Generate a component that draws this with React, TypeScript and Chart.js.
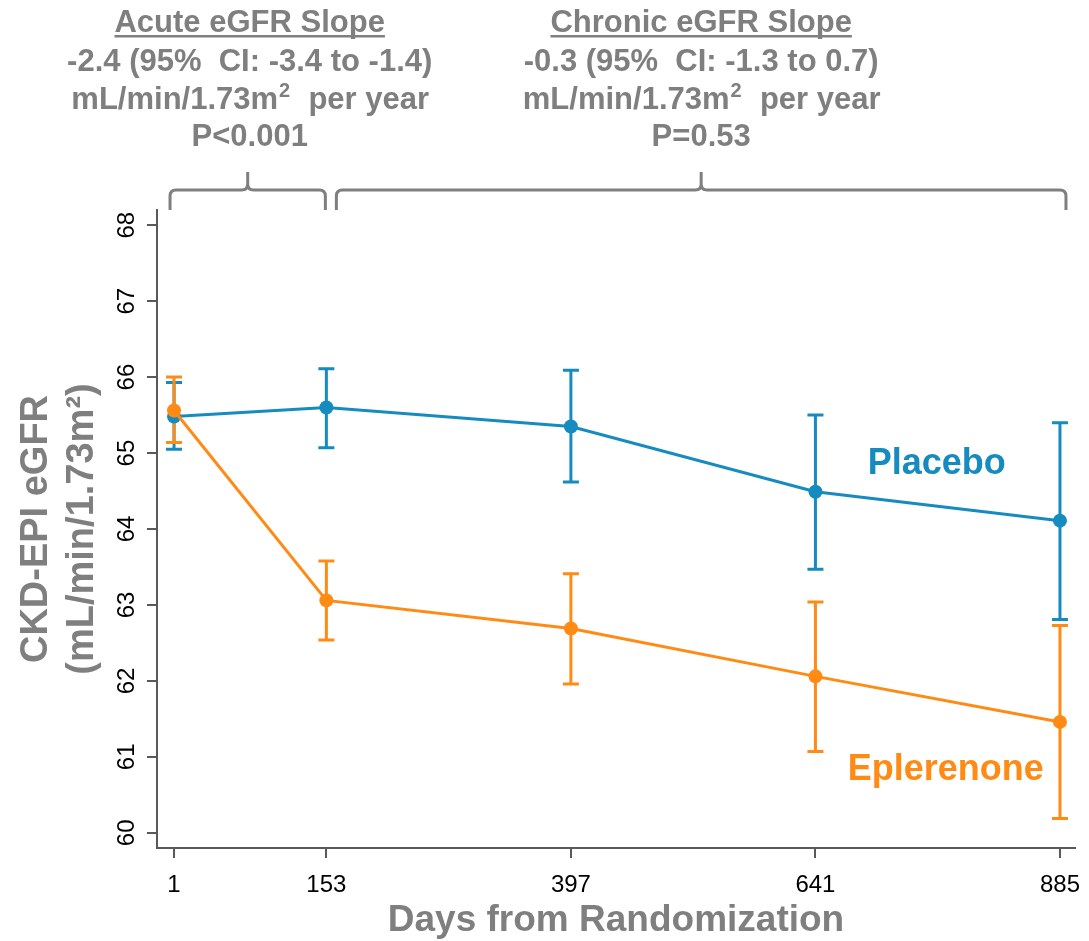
import React, { useEffect, useRef } from "react";
import { Chart, registerables } from "chart.js";

Chart.register(...registerables);

// ---- Data ----
const days = [1, 153, 397, 641, 885];
const placeboMean = [65.48, 65.6, 65.35, 64.49, 64.11];
const placeboLow = [65.05, 65.07, 64.62, 63.47, 62.81];
const placeboHigh = [65.93, 66.11, 66.09, 65.5, 65.4];
const epleMean = [65.56, 63.06, 62.69, 62.06, 61.46];
const epleLow = [65.14, 62.54, 61.96, 61.07, 60.19];
const epleHigh = [66.0, 63.58, 63.41, 63.04, 62.73];
const yTicks = [60, 61, 62, 63, 64, 65, 66, 67, 68];
const xTicks = days;
const acuteRange = [1, 153];
const chronicRange = [153, 885];
const acuteText = ["Acute eGFR Slope", "-2.4 (95%  CI: -3.4 to -1.4)", "mL/min/1.73m\u00B2  per year", "P<0.001"];
const chronicText = ["Chronic eGFR Slope", "-0.3 (95%  CI: -1.3 to 0.7)", "mL/min/1.73m\u00B2  per year", "P=0.53"];
const seriesNames = ["Placebo", "Eplerenone"];

// ---- Styles ----
const BLUE = "#168BC0";
const ORANGE = "#FF8B14";
const GRAY = "#7F7F7F";
const AXIS = "#595959";
const FONT = 'Arial, "Liberation Sans", Helvetica, sans-serif';

const errorBarPlugin = {
  id: "errorBars",
  beforeDatasetsDraw(chart: any) {
    const { ctx, scales } = chart;
    const xs = scales.x;
    const ys = scales.y;
    const sets = [
      { low: placeboLow, high: placeboHigh, color: BLUE },
      { low: epleLow, high: epleHigh, color: ORANGE },
    ];
    ctx.save();
    ctx.lineWidth = 3;
    ctx.lineCap = "butt";
    for (const s of sets) {
      ctx.strokeStyle = s.color;
      days.forEach((d, i) => {
        const x = xs.getPixelForValue(d);
        const yl = ys.getPixelForValue(s.low[i]);
        const yh = ys.getPixelForValue(s.high[i]);
        ctx.beginPath();
        ctx.moveTo(x, yl);
        ctx.lineTo(x, yh);
        ctx.moveTo(x - 8, yl);
        ctx.lineTo(x + 8, yl);
        ctx.moveTo(x - 8, yh);
        ctx.lineTo(x + 8, yh);
        ctx.stroke();
      });
    }
    ctx.restore();
  },
};

function drawBracket(ctx: any, x0: number, x1: number) {
  const y = 190;
  const yEnd = 210;
  const yTop = 172;
  const r = 6;
  const pk = (x0 + x1) / 2;
  ctx.beginPath();
  ctx.moveTo(x0, yEnd);
  ctx.lineTo(x0, y + r);
  ctx.quadraticCurveTo(x0, y, x0 + r, y);
  ctx.lineTo(pk - r, y);
  ctx.quadraticCurveTo(pk, y, pk, y - r);
  ctx.lineTo(pk, yTop);
  ctx.moveTo(pk, y - r);
  ctx.quadraticCurveTo(pk, y, pk + r, y);
  ctx.lineTo(x1 - r, y);
  ctx.quadraticCurveTo(x1, y, x1, y + r);
  ctx.lineTo(x1, yEnd);
  ctx.stroke();
  return pk;
}

function drawBlock(ctx: any, cx: number, lines: string[]) {
  const ys = [23, 62, 100, 137];
  const main = `bold 31px ${FONT}`;
  const sup = `bold 20px ${FONT}`;
  ctx.fillStyle = GRAY;
  ctx.textBaseline = "middle";
  lines.forEach((t, i) => {
    const parts = t.split("\u00B2");
    if (parts.length === 2) {
      ctx.font = main;
      const w1 = ctx.measureText(parts[0]).width;
      const w3 = ctx.measureText(parts[1]).width;
      ctx.font = sup;
      const w2 = ctx.measureText("2").width + 1;
      const total = w1 + w2 + w3;
      let x = cx - total / 2;
      ctx.textAlign = "left";
      ctx.font = main;
      ctx.fillText(parts[0], x, ys[i]);
      x += w1 + 1;
      ctx.font = sup;
      ctx.fillText("2", x, ys[i] - 9);
      x += w2;
      ctx.font = main;
      ctx.fillText(parts[1], x, ys[i]);
    } else {
      ctx.font = main;
      ctx.textAlign = "center";
      ctx.fillText(t, cx, ys[i]);
      if (i === 0) {
        const w = ctx.measureText(t).width;
        ctx.fillRect(cx - w / 2, 35, w, 2.5);
      }
    }
  });
}

const annotationPlugin = {
  id: "annotations",
  afterDraw(chart: any) {
    const { ctx, scales } = chart;
    const xs = scales.x;
    const ys = scales.y;
    ctx.save();
    // brackets and header text
    ctx.strokeStyle = GRAY;
    ctx.lineWidth = 3;
    const pkA = drawBracket(ctx, xs.getPixelForValue(acuteRange[0]) - 4, xs.getPixelForValue(acuteRange[1]) - 1);
    const pkC = drawBracket(ctx, xs.getPixelForValue(chronicRange[0]) + 10, xs.getPixelForValue(chronicRange[1]) + 6);
    drawBlock(ctx, pkA + 2, acuteText);
    drawBlock(ctx, pkC, chronicText);

    // rotated y tick labels
    ctx.fillStyle = "#000";
    ctx.font = `24px ${FONT}`;
    ctx.textAlign = "center";
    ctx.textBaseline = "middle";
    for (const t of ys.ticks) {
      const py = ys.getPixelForValue(t.value);
      ctx.save();
      ctx.translate(ys.right - 30, py);
      ctx.rotate(-Math.PI / 2);
      ctx.fillText(String(t.value), 0, 0);
      ctx.restore();
    }

    // series labels
    ctx.font = `bold 36px ${FONT}`;
    ctx.fillStyle = BLUE;
    ctx.fillText(seriesNames[0], xs.getPixelForValue(762), ys.getPixelForValue(64.85));
    ctx.fillStyle = ORANGE;
    ctx.fillText(seriesNames[1], xs.getPixelForValue(771), ys.getPixelForValue(60.83));
    ctx.restore();
  },
};

export default function App() {
  const ref = useRef<HTMLCanvasElement>(null);
  useEffect(() => {
    const canvas = ref.current!;
    const chart = new Chart(canvas, {
      type: "line",
      data: {
        datasets: [
          {
            label: seriesNames[1],
            data: days.map((d, i) => ({ x: d, y: epleMean[i] })),
            borderColor: ORANGE,
            backgroundColor: ORANGE,
            borderWidth: 3,
            pointRadius: 7,
            pointBorderWidth: 0,
            pointBackgroundColor: ORANGE,
            tension: 0,
          },
          {
            label: seriesNames[0],
            data: days.map((d, i) => ({ x: d, y: placeboMean[i] })),
            borderColor: BLUE,
            backgroundColor: BLUE,
            borderWidth: 3,
            pointRadius: 7,
            pointBorderWidth: 0,
            pointBackgroundColor: BLUE,
            tension: 0,
          },
        ],
      },
      options: {
        animation: false,
        responsive: false,
        maintainAspectRatio: false,
        layout: { padding: { top: 210, left: 0, right: 14, bottom: 0 } },
        plugins: { legend: { display: false }, tooltip: { enabled: false } },
        scales: {
          x: {
            type: "linear",
            min: -16,
            max: 900,
            afterBuildTicks: (s: any) => {
              s.ticks = xTicks.map((v) => ({ value: v }));
            },
            afterFit: (s: any) => {
              s.height = 93;
              s.paddingLeft = 0;
              s.paddingRight = 0;
            },
            ticks: {
              color: "#000",
              font: { family: FONT, size: 24 },
              padding: 13,
              autoSkip: false,
              maxRotation: 0,
              callback: (v: any) => String(v),
            },
            grid: { display: true, drawOnChartArea: false, drawTicks: true, tickLength: 10, color: AXIS, lineWidth: 2 },
            border: { display: true, color: AXIS, width: 2 },
            title: {
              display: true,
              text: "Days from Randomization",
              color: GRAY,
              font: { family: FONT, size: 37, weight: "bold", lineHeight: 1.1 },
              padding: { top: 0, bottom: 0 },
            },
          },
          y: {
            type: "linear",
            min: 59.8,
            max: 68.2,
            afterBuildTicks: (s: any) => {
              s.ticks = yTicks.map((v) => ({ value: v }));
            },
            afterFit: (s: any) => {
              s.width = 157;
              s.paddingTop = 0;
              s.paddingBottom = 0;
            },
            ticks: { display: false },
            grid: { display: true, drawOnChartArea: false, drawTicks: true, tickLength: 10, color: AXIS, lineWidth: 2 },
            border: { display: true, color: AXIS, width: 2 },
            title: {
              display: true,
              text: ["CKD-EPI eGFR", "(mL/min/1.73m\u00B2)"],
              color: GRAY,
              font: { family: FONT, size: 38, weight: "bold", lineHeight: 1.2 },
              padding: { top: 14, bottom: 0 },
            },
          },
        },
      },
      plugins: [errorBarPlugin, annotationPlugin],
    } as any);
    return () => chart.destroy();
  }, []);
  return (
    <div style={{ position: "absolute", left: 0, top: 0, width: 1089, height: 941, background: "#fff" }}>
      <canvas ref={ref} width={1089} height={941} style={{ width: 1089, height: 941, display: "block" }} />
    </div>
  );
}
